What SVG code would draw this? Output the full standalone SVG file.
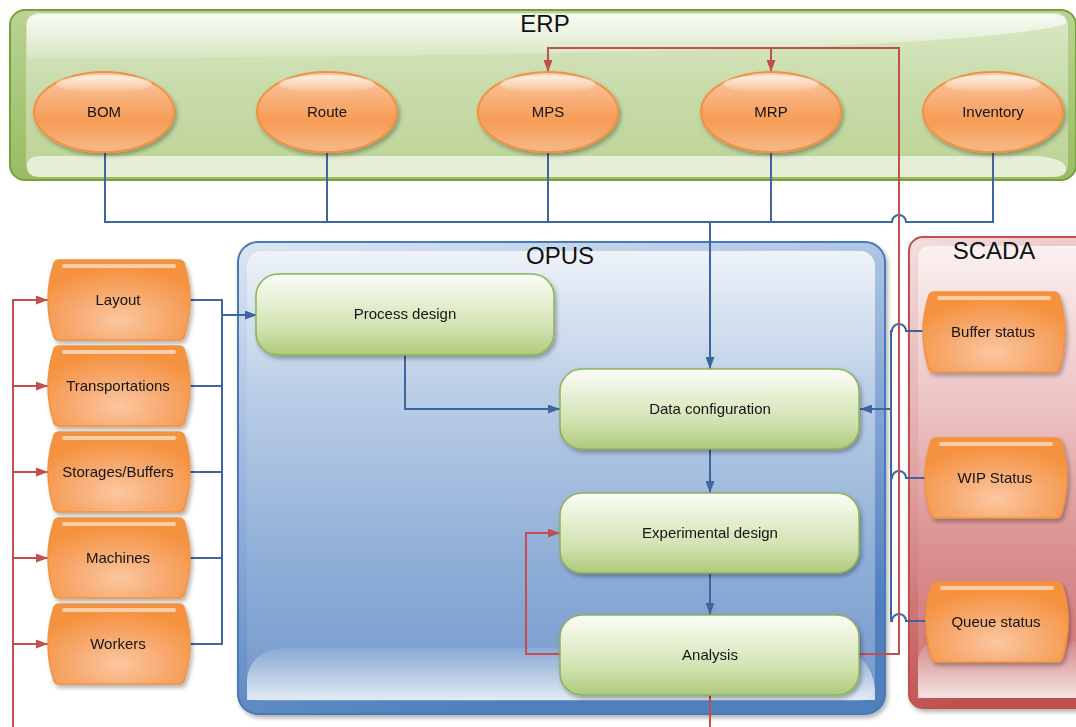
<svg xmlns="http://www.w3.org/2000/svg" xmlns:xlink="http://www.w3.org/1999/xlink" width="1076" height="727" viewBox="0 0 1076 727">
  <style>
    .lbl { font-family: "Liberation Sans", Arial, sans-serif; font-size: 15px; fill: #141414; text-anchor: middle; }
    .ttl { font-family: "Liberation Sans", Arial, sans-serif; font-size: 24px; fill: #111; text-anchor: middle; }
    .blue { fill: none; stroke: #3d669f; stroke-width: 2; }
    .red { fill: none; stroke: #c24f4d; stroke-width: 2; }
    .ell { fill: url(#gEll); stroke: #f2913f; stroke-width: 2; }
    .barrel { fill: url(#gBarrel); stroke: #f2923f; stroke-width: 1.5; }
    .green { fill: url(#gGreen); stroke: #8db25a; stroke-width: 1.5; }
    .gloss { fill: #ffffff; opacity: 0.55; }
  </style>
  <defs>
    <linearGradient id="gEll" x1="0" y1="0" x2="0" y2="1">
      <stop offset="0" stop-color="#fbcfab"/>
      <stop offset="0.35" stop-color="#f8ae78"/>
      <stop offset="0.62" stop-color="#f69c55"/>
      <stop offset="1" stop-color="#f8b989"/>
    </linearGradient>
    <linearGradient id="gEllHi" x1="0" y1="0" x2="0" y2="1">
      <stop offset="0" stop-color="#ffffff" stop-opacity="0.7"/>
      <stop offset="1" stop-color="#ffffff" stop-opacity="0"/>
    </linearGradient>
    <radialGradient id="gBarrel" cx="0.5" cy="0.75" r="0.65">
      <stop offset="0" stop-color="#fbc7a0"/>
      <stop offset="0.55" stop-color="#f7a86c"/>
      <stop offset="1" stop-color="#f5923f"/>
    </radialGradient>
    <linearGradient id="gGreen" x1="0" y1="0" x2="0" y2="1">
      <stop offset="0" stop-color="#fbfdf6"/>
      <stop offset="0.3" stop-color="#e8f1d7"/>
      <stop offset="0.65" stop-color="#d2e3b2"/>
      <stop offset="1" stop-color="#afca7b"/>
    </linearGradient>
    <linearGradient id="gErpOuter" x1="0" y1="0" x2="0" y2="1">
      <stop offset="0" stop-color="#b9d393"/>
      <stop offset="1" stop-color="#98bc62"/>
    </linearGradient>
    <linearGradient id="gErpInner" x1="0" y1="0" x2="0" y2="1">
      <stop offset="0" stop-color="#d9e8c5"/>
      <stop offset="0.5" stop-color="#c7dba8"/>
      <stop offset="1" stop-color="#bcd496"/>
    </linearGradient>
    <linearGradient id="gOpusOuter" x1="0" y1="0" x2="0.35" y2="1">
      <stop offset="0" stop-color="#dce6f2"/>
      <stop offset="0.45" stop-color="#9ab7de"/>
      <stop offset="1" stop-color="#4f7fbd"/>
    </linearGradient>
    <linearGradient id="gOpusInner" x1="0" y1="0" x2="0" y2="1">
      <stop offset="0" stop-color="#eef3f9"/>
      <stop offset="0.3" stop-color="#bccfe7"/>
      <stop offset="0.7" stop-color="#8eadd7"/>
      <stop offset="1" stop-color="#7499cc"/>
    </linearGradient>
    <linearGradient id="gScadaOuter" x1="0" y1="0" x2="0.2" y2="1">
      <stop offset="0" stop-color="#f4dede"/>
      <stop offset="0.45" stop-color="#e2a8a8"/>
      <stop offset="1" stop-color="#c0504d"/>
    </linearGradient>
    <linearGradient id="gScadaInner" x1="0" y1="0" x2="0" y2="1">
      <stop offset="0" stop-color="#fbf1f1"/>
      <stop offset="0.35" stop-color="#edc3c3"/>
      <stop offset="0.7" stop-color="#d98c8c"/>
      <stop offset="1" stop-color="#cf7474"/>
    </linearGradient>
    <linearGradient id="gBand" x1="0" y1="0" x2="0" y2="1">
      <stop offset="0" stop-color="#ffffff" stop-opacity="0.1"/>
      <stop offset="1" stop-color="#ffffff" stop-opacity="0.8"/>
    </linearGradient>
    <linearGradient id="gTopHi" x1="0" y1="0" x2="0" y2="1">
      <stop offset="0" stop-color="#ffffff" stop-opacity="0.8"/>
      <stop offset="1" stop-color="#ffffff" stop-opacity="0.15"/>
    </linearGradient>
    <filter id="shadow" x="-10%" y="-10%" width="130%" height="140%">
      <feDropShadow dx="2" dy="3" stdDeviation="2" flood-color="#000" flood-opacity="0.3"/>
    </filter>
    <marker id="arBlue" markerUnits="userSpaceOnUse" markerWidth="13" markerHeight="9" refX="12" refY="4.5" orient="auto">
      <path d="M0,0 L12,4.5 L0,9 z" fill="#3d669f"/>
    </marker>
    <marker id="arRed" markerUnits="userSpaceOnUse" markerWidth="13" markerHeight="9" refX="12" refY="4.5" orient="auto">
      <path d="M0,0 L12,4.5 L0,9 z" fill="#c24f4d"/>
    </marker>
    <!-- barrel outline, 142 x 80, placed with <use> -->
    <path id="barrelShape" d="M11,0 H131 Q134,0 136,3 Q148,40 136,77 Q134,80 131,80 H11 Q8,80 6,77 Q-6,40 6,3 Q8,0 11,0 Z"/>
    <rect id="barrelGloss" x="14" y="4" width="114" height="4" rx="2"/>
  </defs>

  <!-- ERP container -->
  <g id="erp">
    <rect x="10" y="10" width="1066" height="170" rx="15" fill="url(#gErpOuter)" stroke="#77a03b" stroke-width="2"/>
    <rect x="26" y="13" width="1042" height="164" rx="12" fill="url(#gErpInner)"/>
    <path d="M27,24 Q27,14 42,14 H1050 Q1068,14 1066,24 Q1000,42 700,50 Q330,58 27,58 Z" fill="url(#gTopHi)"/>
    <path d="M40,156 H1040 Q1068,160 1066,170 Q1066,177 1050,177 H40 Q27,177 27,166 Q27,156 40,156 Z" fill="#ffffff" opacity="0.6"/>
    <text class="ttl" x="545" y="32">ERP</text>
  </g>

  <!-- OPUS container -->
  <g id="opus">
    <rect x="238" y="242" width="647" height="472" rx="20" fill="url(#gOpusOuter)" stroke="#4a79b6" stroke-width="2" filter="url(#shadow)"/>
    <rect x="247" y="251" width="628" height="450" rx="15" fill="url(#gOpusInner)"/>
    <path d="M247,700 V680 Q250,648 290,648 H830 Q872,650 875,690 V700 Z" fill="url(#gBand)"/>
    <text class="ttl" x="560" y="264">OPUS</text>
  </g>

  <!-- SCADA container -->
  <g id="scada">
    <rect x="909" y="237" width="190" height="471" rx="14" fill="url(#gScadaOuter)" stroke="#c0504d" stroke-width="2" filter="url(#shadow)"/>
    <rect x="918" y="246" width="180" height="452" rx="11" fill="url(#gScadaInner)"/>
    <path d="M918,698 V660 Q920,642 940,642 H1080 V698 Z" fill="url(#gBand)"/>
    <text class="ttl" x="994" y="259">SCADA</text>
  </g>

  <!-- connectors -->
  <g id="connectors">
    <!-- ERP bus to data configuration -->
    <path class="blue" d="M105,152 V222 H892 A7,7 0 0 1 906,222 H993 V152"/>
    <path class="blue" d="M327,152 V222 M548,152 V222 M771,152 V222"/>
    <path class="blue" d="M710,222 V369" marker-end="url(#arBlue)"/>
    <!-- plant resources to process design -->
    <path class="blue" d="M190,300 H222 V644 H190 M190,386 H222 M190,472 H222 M190,558 H222"/>
    <path class="blue" d="M222,315 H257" marker-end="url(#arBlue)"/>
    <!-- OPUS flow -->
    <path class="blue" d="M405,355 V409 H560" marker-end="url(#arBlue)"/>
    <path class="blue" d="M710,449 V493" marker-end="url(#arBlue)"/>
    <path class="blue" d="M710,573 V615" marker-end="url(#arBlue)"/>
    <!-- SCADA feeds -->
    <path class="blue" d="M923,331 H906 A7,7 0 0 0 892,331 H891 V621 H892 A7,7 0 0 1 906,621 H926"/>
    <path class="blue" d="M925,478 H906 A7,7 0 0 0 892,478 H891"/>
    <path class="blue" d="M891,409 H860" marker-end="url(#arBlue)"/>
    <!-- feedback from analysis -->
    <path class="red" d="M859,654 H899 V48 H548 V72" marker-end="url(#arRed)"/>
    <path class="red" d="M771,48 V72" marker-end="url(#arRed)"/>
    <path class="red" d="M560,654 H526 V533 H560" marker-end="url(#arRed)"/>
    <path class="red" d="M710,695 V727"/>
    <path class="red" d="M13,727 V300 H48" marker-end="url(#arRed)"/>
    <path class="red" d="M13,386 H48" marker-end="url(#arRed)"/>
    <path class="red" d="M13,472 H48" marker-end="url(#arRed)"/>
    <path class="red" d="M13,558 H48" marker-end="url(#arRed)"/>
    <path class="red" d="M13,644 H48" marker-end="url(#arRed)"/>
  </g>

  <!-- ERP modules -->
  <g id="bom" filter="url(#shadow)">
    <ellipse class="ell" cx="104" cy="112" rx="70" ry="40"/>
    <ellipse cx="104" cy="84" rx="48" ry="9" fill="url(#gEllHi)"/>
    <text class="lbl" x="104" y="117">BOM</text>
  </g>
  <g id="route" filter="url(#shadow)">
    <ellipse class="ell" cx="327" cy="112" rx="70" ry="40"/>
    <ellipse cx="327" cy="84" rx="48" ry="9" fill="url(#gEllHi)"/>
    <text class="lbl" x="327" y="117">Route</text>
  </g>
  <g id="mps" filter="url(#shadow)">
    <ellipse class="ell" cx="548" cy="112" rx="70" ry="40"/>
    <ellipse cx="548" cy="84" rx="48" ry="9" fill="url(#gEllHi)"/>
    <text class="lbl" x="548" y="117">MPS</text>
  </g>
  <g id="mrp" filter="url(#shadow)">
    <ellipse class="ell" cx="771" cy="112" rx="70" ry="40"/>
    <ellipse cx="771" cy="84" rx="48" ry="9" fill="url(#gEllHi)"/>
    <text class="lbl" x="771" y="117">MRP</text>
  </g>
  <g id="inventory" filter="url(#shadow)">
    <ellipse class="ell" cx="993" cy="112" rx="70" ry="40"/>
    <ellipse cx="993" cy="84" rx="48" ry="9" fill="url(#gEllHi)"/>
    <text class="lbl" x="993" y="117">Inventory</text>
  </g>

  <!-- plant resources -->
  <g id="layout" filter="url(#shadow)">
    <use href="#barrelShape" x="48" y="260" class="barrel"/>
    <use href="#barrelGloss" x="48" y="260" class="gloss"/>
    <text class="lbl" x="118" y="305">Layout</text>
  </g>
  <g id="transportations" filter="url(#shadow)">
    <use href="#barrelShape" x="48" y="346" class="barrel"/>
    <use href="#barrelGloss" x="48" y="346" class="gloss"/>
    <text class="lbl" x="118" y="391">Transportations</text>
  </g>
  <g id="storages-buffers" filter="url(#shadow)">
    <use href="#barrelShape" x="48" y="432" class="barrel"/>
    <use href="#barrelGloss" x="48" y="432" class="gloss"/>
    <text class="lbl" x="118" y="477">Storages/Buffers</text>
  </g>
  <g id="machines" filter="url(#shadow)">
    <use href="#barrelShape" x="48" y="518" class="barrel"/>
    <use href="#barrelGloss" x="48" y="518" class="gloss"/>
    <text class="lbl" x="118" y="563">Machines</text>
  </g>
  <g id="workers" filter="url(#shadow)">
    <use href="#barrelShape" x="48" y="604" class="barrel"/>
    <use href="#barrelGloss" x="48" y="604" class="gloss"/>
    <text class="lbl" x="118" y="649">Workers</text>
  </g>

  <!-- OPUS steps -->
  <g id="process-design" filter="url(#shadow)">
    <rect class="green" x="256" y="274" width="298" height="81" rx="22"/>
    <text class="lbl" x="405" y="319">Process design</text>
  </g>
  <g id="data-configuration" filter="url(#shadow)">
    <rect class="green" x="560" y="369" width="299" height="80" rx="22"/>
    <text class="lbl" x="710" y="414">Data configuration</text>
  </g>
  <g id="experimental-design" filter="url(#shadow)">
    <rect class="green" x="560" y="493" width="299" height="80" rx="22"/>
    <text class="lbl" x="710" y="538">Experimental design</text>
  </g>
  <g id="analysis" filter="url(#shadow)">
    <rect class="green" x="560" y="615" width="299" height="80" rx="22"/>
    <text class="lbl" x="710" y="660">Analysis</text>
  </g>

  <!-- SCADA signals -->
  <g id="buffer-status" filter="url(#shadow)">
    <use href="#barrelShape" x="923" y="292" class="barrel"/>
    <use href="#barrelGloss" x="923" y="292" class="gloss"/>
    <text class="lbl" x="993" y="337">Buffer status</text>
  </g>
  <g id="wip-status" filter="url(#shadow)">
    <use href="#barrelShape" x="925" y="438" class="barrel"/>
    <use href="#barrelGloss" x="925" y="438" class="gloss"/>
    <text class="lbl" x="995" y="483">WIP Status</text>
  </g>
  <g id="queue-status" filter="url(#shadow)">
    <use href="#barrelShape" x="926" y="582" class="barrel"/>
    <use href="#barrelGloss" x="926" y="582" class="gloss"/>
    <text class="lbl" x="996" y="627">Queue status</text>
  </g>
</svg>
